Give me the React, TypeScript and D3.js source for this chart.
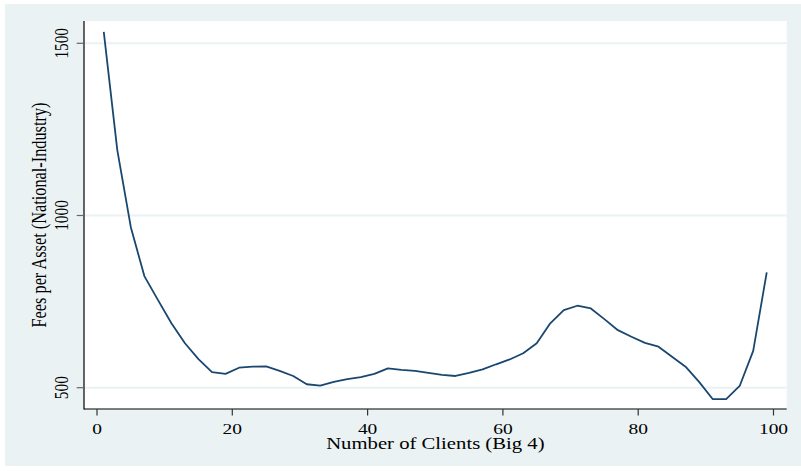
import React from "react";
import * as d3 from "d3";

const clients = [1, 3, 5, 7, 9, 11, 13, 15, 17, 19, 21, 23, 25, 27, 29, 31, 33, 35, 37, 39, 41, 43, 45, 47, 49, 51, 53, 55, 57, 59, 61, 63, 65, 67, 69, 71, 73, 75, 77, 79, 81, 83, 85, 87, 89, 91, 93, 95, 97, 99];
const fees = [1533, 1190, 966, 824, 755, 687, 629, 583, 545, 540, 558, 561, 562, 549, 534, 510, 506, 517, 525, 531, 540, 556, 552, 549, 543, 537, 534, 543, 553, 568, 582, 600, 629, 687, 725, 738, 730, 699, 667, 648, 630, 619, 590, 561, 517, 467, 467, 505, 607, 835];
const xTicks = [0, 20, 40, 60, 80, 100];
const yTicks = [500, 1000, 1500];
const xTitle = "Number of Clients (Big 4)";
const yTitle = "Fees per Asset (National-Industry)";

const W = 801;
const H = 471;
const plot = { left: 84, right: 786.7, top: 21, bottom: 409 };
const SX = 1.27;
const BG = "#eaf2f3";
const FONT = "'Liberation Serif', 'Times New Roman', serif";

export default function App() {
  const x = d3.scaleLinear().domain([0, 100]).range([97, 773.5]);
  const y = d3.scaleLinear().domain([500, 1500]).range([387.7, 43.3]);
  const data = clients.map((c, i) => [c, fees[i]] as [number, number]);
  const line = d3
    .line<[number, number]>()
    .x((d) => x(d[0]))
    .y((d) => y(d[1]));

  return (
    <svg
      width={W}
      height={H}
      style={{ position: "absolute", left: 0, top: 0, background: "#ffffff" }}
    >
      <rect x={5} y={4} width={W - 5} height={462} fill={BG} />
      <rect
        x={plot.left}
        y={plot.top}
        width={plot.right - plot.left}
        height={plot.bottom - plot.top}
        fill="#ffffff"
      />
      {yTicks.map((t) => (
        <line
          key={"g" + t}
          x1={plot.left}
          x2={plot.right}
          y1={y(t)}
          y2={y(t)}
          stroke={BG}
          strokeWidth={2}
        />
      ))}
      <path d={line(data) || ""} fill="none" stroke="#1a476f" strokeWidth={1.8} strokeLinejoin="round" />
      <line x1={plot.left} x2={plot.left} y1={plot.top} y2={plot.bottom + 0.5} stroke="#000" strokeWidth={1.2} />
      <line x1={plot.left} x2={plot.right} y1={plot.bottom} y2={plot.bottom} stroke="#000" strokeWidth={1.2} />
      {xTicks.map((t) => (
        <g key={"x" + t}>
          <line x1={x(t)} x2={x(t)} y1={plot.bottom} y2={plot.bottom + 6.5} stroke="#333" strokeWidth={1.2} />
          <text
            transform={`translate(${x(t)},434) scale(${SX},1)`}
            textAnchor="middle"
            fontFamily={FONT}
            fontSize={15.3}
            fill="#000"
          >
            {t}
          </text>
        </g>
      ))}
      {yTicks.map((t) => (
        <g key={"y" + t}>
          <line x1={plot.left - 7.3} x2={plot.left} y1={y(t)} y2={y(t)} stroke="#666" strokeWidth={1.2} />
          <text
            transform={`translate(68,${y(t)}) scale(${SX},1) rotate(-90)`}
            textAnchor="middle"
            fontFamily={FONT}
            fontSize={15.3}
            fill="#000"
          >
            {t}
          </text>
        </g>
      ))}
      <text
        transform={`translate(${(plot.left + plot.right) / 2},449) scale(${SX},1)`}
        textAnchor="middle"
        fontFamily={FONT}
        fontSize={16.3}
        fill="#000"
      >
        {xTitle}
      </text>
      <text
        transform={`translate(45.7,${(plot.top + plot.bottom) / 2}) scale(${SX},1) rotate(-90)`}
        textAnchor="middle"
        fontFamily={FONT}
        fontSize={16.3}
        fill="#000"
      >
        {yTitle}
      </text>
    </svg>
  );
}
